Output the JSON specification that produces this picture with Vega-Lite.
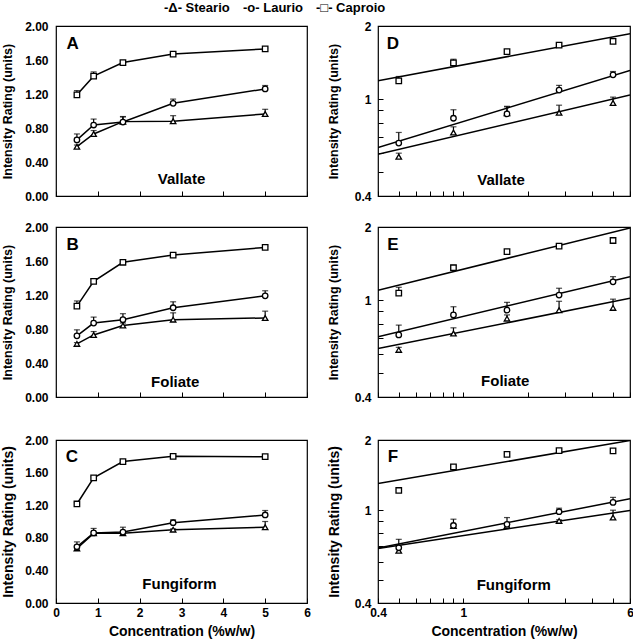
{
 "$schema": "https://vega.github.io/schema/vega-lite/v6.json",
 "padding": {"left": 1, "top": 1, "right": 0, "bottom": 0},
 "background": "white",
 "config": {
  "view": {"stroke": "black", "strokeWidth": 1.2},
  "axis": {"grid": false, "domain": false, "labelFont": "Liberation Sans", "labelFontSize": 12, "labelFontWeight": "bold", "labelColor": "black", "titleFont": "Liberation Sans", "titleFontSize": 12.5, "titleFontWeight": "bold", "titleColor": "black", "tickColor": "black", "tickSize": -5, "tickWidth": 1, "labelFlush": false, "labelOverlap": false},
  "text": {"font": "Liberation Sans"}
 },
 "datasets": {
  "obs": [
   {"tissue":"Vallate","series":"Steario","conc":0.5,"y":0.58,"hi":0.60},
   {"tissue":"Vallate","series":"Steario","conc":0.9,"y":0.73,"hi":0.77},
   {"tissue":"Vallate","series":"Steario","conc":1.6,"y":0.875,"hi":0.935},
   {"tissue":"Vallate","series":"Steario","conc":2.8,"y":0.88,"hi":0.945},
   {"tissue":"Vallate","series":"Steario","conc":5.0,"y":0.965,"hi":1.02},
   {"tissue":"Vallate","series":"Laurio","conc":0.5,"y":0.66,"hi":0.73},
   {"tissue":"Vallate","series":"Laurio","conc":0.9,"y":0.835,"hi":0.905},
   {"tissue":"Vallate","series":"Laurio","conc":1.6,"y":0.87,"hi":0.93},
   {"tissue":"Vallate","series":"Laurio","conc":2.8,"y":1.09,"hi":1.14},
   {"tissue":"Vallate","series":"Laurio","conc":5.0,"y":1.26,"hi":1.30},
   {"tissue":"Vallate","series":"Caproio","conc":0.5,"y":1.19,"hi":1.24},
   {"tissue":"Vallate","series":"Caproio","conc":0.9,"y":1.41,"hi":1.46},
   {"tissue":"Vallate","series":"Caproio","conc":1.6,"y":1.57,"hi":1.59},
   {"tissue":"Vallate","series":"Caproio","conc":2.8,"y":1.67,"hi":1.69},
   {"tissue":"Vallate","series":"Caproio","conc":5.0,"y":1.73,"hi":1.74},
   {"tissue":"Foliate","series":"Steario","conc":0.5,"y":0.625,"hi":0.64},
   {"tissue":"Foliate","series":"Steario","conc":0.9,"y":0.73,"hi":0.77},
   {"tissue":"Foliate","series":"Steario","conc":1.6,"y":0.84,"hi":0.87},
   {"tissue":"Foliate","series":"Steario","conc":2.8,"y":0.91,"hi":0.99},
   {"tissue":"Foliate","series":"Steario","conc":5.0,"y":0.93,"hi":1.01},
   {"tissue":"Foliate","series":"Laurio","conc":0.5,"y":0.72,"hi":0.79},
   {"tissue":"Foliate","series":"Laurio","conc":0.9,"y":0.87,"hi":0.94},
   {"tissue":"Foliate","series":"Laurio","conc":1.6,"y":0.91,"hi":0.98},
   {"tissue":"Foliate","series":"Laurio","conc":2.8,"y":1.05,"hi":1.12},
   {"tissue":"Foliate","series":"Laurio","conc":5.0,"y":1.19,"hi":1.25},
   {"tissue":"Foliate","series":"Caproio","conc":0.5,"y":1.07,"hi":1.13},
   {"tissue":"Foliate","series":"Caproio","conc":0.9,"y":1.36,"hi":1.39},
   {"tissue":"Foliate","series":"Caproio","conc":1.6,"y":1.585,"hi":1.60},
   {"tissue":"Foliate","series":"Caproio","conc":2.8,"y":1.67,"hi":1.685},
   {"tissue":"Foliate","series":"Caproio","conc":5.0,"y":1.76,"hi":1.775},
   {"tissue":"Fungiform","series":"Steario","conc":0.5,"y":0.67,"hi":0.70},
   {"tissue":"Fungiform","series":"Steario","conc":0.9,"y":0.855,"hi":0.87},
   {"tissue":"Fungiform","series":"Steario","conc":1.6,"y":0.855,"hi":0.87},
   {"tissue":"Fungiform","series":"Steario","conc":2.8,"y":0.90,"hi":0.91},
   {"tissue":"Fungiform","series":"Steario","conc":5.0,"y":0.93,"hi":1.00},
   {"tissue":"Fungiform","series":"Laurio","conc":0.5,"y":0.69,"hi":0.75},
   {"tissue":"Fungiform","series":"Laurio","conc":0.9,"y":0.86,"hi":0.915},
   {"tissue":"Fungiform","series":"Laurio","conc":1.6,"y":0.87,"hi":0.93},
   {"tissue":"Fungiform","series":"Laurio","conc":2.8,"y":0.985,"hi":1.02},
   {"tissue":"Fungiform","series":"Laurio","conc":5.0,"y":1.08,"hi":1.135},
   {"tissue":"Fungiform","series":"Caproio","conc":0.5,"y":1.215,"hi":1.23},
   {"tissue":"Fungiform","series":"Caproio","conc":0.9,"y":1.535,"hi":1.55},
   {"tissue":"Fungiform","series":"Caproio","conc":1.6,"y":1.735,"hi":1.75},
   {"tissue":"Fungiform","series":"Caproio","conc":2.8,"y":1.80,"hi":1.81},
   {"tissue":"Fungiform","series":"Caproio","conc":5.0,"y":1.795,"hi":1.805}
  ],
  "fit": [
   {"tissue":"Vallate","series":"Caproio","conc":0.4,"y":1.19},
   {"tissue":"Vallate","series":"Caproio","conc":6,"y":1.86},
   {"tissue":"Vallate","series":"Laurio","conc":0.4,"y":0.633},
   {"tissue":"Vallate","series":"Laurio","conc":6,"y":1.312},
   {"tissue":"Vallate","series":"Steario","conc":0.4,"y":0.594},
   {"tissue":"Vallate","series":"Steario","conc":6,"y":1.041},
   {"tissue":"Foliate","series":"Caproio","conc":0.4,"y":1.10},
   {"tissue":"Foliate","series":"Caproio","conc":6,"y":1.98},
   {"tissue":"Foliate","series":"Laurio","conc":0.4,"y":0.707},
   {"tissue":"Foliate","series":"Laurio","conc":6,"y":1.25},
   {"tissue":"Foliate","series":"Steario","conc":0.4,"y":0.633},
   {"tissue":"Foliate","series":"Steario","conc":6,"y":1.018},
   {"tissue":"Fungiform","series":"Caproio","conc":0.4,"y":1.30},
   {"tissue":"Fungiform","series":"Caproio","conc":6,"y":1.99},
   {"tissue":"Fungiform","series":"Laurio","conc":0.4,"y":0.689},
   {"tissue":"Fungiform","series":"Laurio","conc":6,"y":1.12},
   {"tissue":"Fungiform","series":"Steario","conc":0.4,"y":0.685},
   {"tissue":"Fungiform","series":"Steario","conc":6,"y":0.998}
  ],
  "notes": [
   {"letter":"A","name":"Vallate"},
   {"letter":"B","name":"Foliate"},
   {"letter":"C","name":"Fungiform"},
   {"letter":"D","name":"Vallate"},
   {"letter":"E","name":"Foliate"},
   {"letter":"F","name":"Fungiform"}
  ]
 },
 "vconcat": [
  {
   "vconcat": [
    {
     "hconcat": [
      {
       "width": 251, "height": 170,
       "layer": [
        {
         "encoding": {
          "x": {"field": "conc", "type": "quantitative", "scale": {"domain": [0, 6], "nice": false, "zero": false}, "axis": {"values": [0,1,2,3,4,5,6], "labels": false, "title": null}},
          "y": {"field": "y", "type": "quantitative", "scale": {"domain": [0, 2], "nice": false}, "axis": {"values": [0,0.4,0.8,1.2,1.6,2], "format": ".2f", "ticks": false, "tickSize": 0, "labelPadding": 8, "title": "Intensity Rating (units)", "titlePadding": 10}}
         },
         "layer": [
          {"data": {"name": "obs"}, "transform": [{"filter": "datum.tissue == 'Vallate'"}], "mark": {"type": "line", "color": "black", "strokeWidth": 1.5}, "encoding": {"detail": {"field": "series"}}},
          {"data": {"name": "obs"}, "transform": [{"filter": "datum.tissue == 'Vallate'"}], "mark": {"type": "rule", "color": "black", "strokeWidth": 1.2}, "encoding": {"y2": {"field": "hi"}}},
          {"data": {"name": "obs"}, "transform": [{"filter": "datum.tissue == 'Vallate'"}], "mark": {"type": "tick", "color": "black", "orient": "horizontal", "size": 6, "thickness": 1.2}, "encoding": {"y": {"field": "hi", "type": "quantitative"}}},
          {"data": {"name": "obs"}, "transform": [{"filter": "datum.tissue == 'Vallate'"}], "mark": {"type": "point", "filled": true, "fill": "white", "stroke": "black", "strokeWidth": 1.3, "size": 30, "opacity": 1},
           "encoding": {"shape": {"field": "series", "type": "nominal", "scale": {"domain": ["Steario","Laurio","Caproio"], "range": ["triangle-up","circle","square"]},
            "legend": {"title": null, "orient": "none", "legendX": 95, "legendY": -25, "direction": "horizontal", "labelFont": "Liberation Sans", "labelFontSize": 13, "labelFontWeight": "bold", "labelColor": "black", "symbolSize": 1, "symbolOpacity": 0, "labelOffset": 0, "columnPadding": 0, "padding": 0,
             "labelExpr": "datum.value == 'Steario' ? '-Δ- Steario' : datum.value == 'Laurio' ? '-o- Laurio' : '-□- Caproio'"}}}}
         ]
        },
        {"data": {"name": "notes"}, "transform": [{"filter": "datum.letter == 'A'"}], "mark": {"type": "text", "fontSize": 17, "fontWeight": "bold", "color": "black", "align": "center", "baseline": "middle"},
         "encoding": {"x": {"datum": 0.4, "type": "quantitative", "axis": {"values": [0,1,2,3,4,5,6], "labels": false, "title": null}}, "y": {"datum": 1.79, "type": "quantitative", "axis": {"values": [0,0.4,0.8,1.2,1.6,2], "format": ".2f", "ticks": false, "tickSize": 0, "labelPadding": 8, "title": "Intensity Rating (units)", "titlePadding": 10}}, "text": {"field": "letter", "type": "nominal"}}},
        {"data": {"name": "notes"}, "transform": [{"filter": "datum.letter == 'A'"}], "mark": {"type": "text", "fontSize": 15, "fontWeight": "bold", "color": "black", "align": "center", "baseline": "middle"},
         "encoding": {"x": {"datum": 3, "type": "quantitative", "axis": {"values": [0,1,2,3,4,5,6], "labels": false, "title": null}}, "y": {"datum": 0.2, "type": "quantitative", "axis": {"values": [0,0.4,0.8,1.2,1.6,2], "format": ".2f", "ticks": false, "tickSize": 0, "labelPadding": 8, "title": "Intensity Rating (units)", "titlePadding": 10}}, "text": {"field": "name", "type": "nominal"}}}
       ]
      },
      {
       "width": 252, "height": 170,
       "layer": [
        {
         "encoding": {
          "x": {"field": "conc", "type": "quantitative", "scale": {"type": "log", "domain": [0.4, 6], "nice": false}, "axis": {"values": [0.4,0.5,0.6,0.7,0.8,0.9,1,2,3,4,5,6], "labels": false, "title": null}},
          "y": {"field": "y", "type": "quantitative", "scale": {"type": "log", "domain": [0.4, 2], "nice": false}, "axis": {"values": [0.4,0.5,0.6,0.7,0.8,0.9,1,2], "format": "~g", "labelExpr": "datum.value == 0.4 || datum.value == 1 || datum.value == 2 ? datum.label : ''", "labelPadding": 12, "title": "Intensity Rating (units)", "titlePadding": 14}}
         },
         "layer": [
          {"data": {"name": "fit"}, "transform": [{"filter": "datum.tissue == 'Vallate'"}], "mark": {"type": "line", "color": "black", "strokeWidth": 1.5, "clip": true}, "encoding": {"detail": {"field": "series"}}},
          {"data": {"name": "obs"}, "transform": [{"filter": "datum.tissue == 'Vallate'"}], "mark": {"type": "rule", "color": "black", "strokeWidth": 1.2}, "encoding": {"y2": {"field": "hi"}}},
          {"data": {"name": "obs"}, "transform": [{"filter": "datum.tissue == 'Vallate'"}], "mark": {"type": "tick", "color": "black", "orient": "horizontal", "size": 6, "thickness": 1.2}, "encoding": {"y": {"field": "hi", "type": "quantitative"}}},
          {"data": {"name": "obs"}, "transform": [{"filter": "datum.tissue == 'Vallate'"}], "mark": {"type": "point", "filled": true, "fill": "white", "stroke": "black", "strokeWidth": 1.3, "size": 30, "opacity": 1}, "encoding": {"shape": {"field": "series", "type": "nominal", "scale": {"domain": ["Steario","Laurio","Caproio"], "range": ["triangle-up","circle","square"]}, "legend": null}}}
         ]
        },
        {"data": {"name": "notes"}, "transform": [{"filter": "datum.letter == 'D'"}], "mark": {"type": "text", "fontSize": 17, "fontWeight": "bold", "color": "black", "align": "center", "baseline": "middle"},
         "encoding": {"x": {"datum": 0.47, "type": "quantitative", "axis": {"values": [0.4,0.5,0.6,0.7,0.8,0.9,1,2,3,4,5,6], "labels": false, "title": null}}, "y": {"datum": 1.69, "type": "quantitative", "axis": {"values": [0.4,0.5,0.6,0.7,0.8,0.9,1,2], "format": "~g", "labelExpr": "datum.value == 0.4 || datum.value == 1 || datum.value == 2 ? datum.label : ''", "labelPadding": 12, "title": "Intensity Rating (units)", "titlePadding": 14}}, "text": {"field": "letter", "type": "nominal"}}},
        {"data": {"name": "notes"}, "transform": [{"filter": "datum.letter == 'D'"}], "mark": {"type": "text", "fontSize": 15, "fontWeight": "bold", "color": "black", "align": "center", "baseline": "middle"},
         "encoding": {"x": {"datum": 1.5, "type": "quantitative", "axis": {"values": [0.4,0.5,0.6,0.7,0.8,0.9,1,2,3,4,5,6], "labels": false, "title": null}}, "y": {"datum": 0.467, "type": "quantitative", "axis": {"values": [0.4,0.5,0.6,0.7,0.8,0.9,1,2], "format": "~g", "labelExpr": "datum.value == 0.4 || datum.value == 1 || datum.value == 2 ? datum.label : ''", "labelPadding": 12, "title": "Intensity Rating (units)", "titlePadding": 14}}, "text": {"field": "name", "type": "nominal"}}}
       ]
      }
     ],
     "spacing": 71, "bounds": "flush"
    },
    {
     "hconcat": [
      {
       "width": 251, "height": 170,
       "layer": [
        {
         "encoding": {
          "x": {"field": "conc", "type": "quantitative", "scale": {"domain": [0, 6], "nice": false, "zero": false}, "axis": {"values": [0,1,2,3,4,5,6], "labels": false, "title": null}},
          "y": {"field": "y", "type": "quantitative", "scale": {"domain": [0, 2], "nice": false}, "axis": {"values": [0,0.4,0.8,1.2,1.6,2], "format": ".2f", "ticks": false, "tickSize": 0, "labelPadding": 8, "title": "Intensity Rating (units)", "titlePadding": 10}}
         },
         "layer": [
          {"data": {"name": "obs"}, "transform": [{"filter": "datum.tissue == 'Foliate'"}], "mark": {"type": "line", "color": "black", "strokeWidth": 1.5}, "encoding": {"detail": {"field": "series"}}},
          {"data": {"name": "obs"}, "transform": [{"filter": "datum.tissue == 'Foliate'"}], "mark": {"type": "rule", "color": "black", "strokeWidth": 1.2}, "encoding": {"y2": {"field": "hi"}}},
          {"data": {"name": "obs"}, "transform": [{"filter": "datum.tissue == 'Foliate'"}], "mark": {"type": "tick", "color": "black", "orient": "horizontal", "size": 6, "thickness": 1.2}, "encoding": {"y": {"field": "hi", "type": "quantitative"}}},
          {"data": {"name": "obs"}, "transform": [{"filter": "datum.tissue == 'Foliate'"}], "mark": {"type": "point", "filled": true, "fill": "white", "stroke": "black", "strokeWidth": 1.3, "size": 30, "opacity": 1}, "encoding": {"shape": {"field": "series", "type": "nominal", "scale": {"domain": ["Steario","Laurio","Caproio"], "range": ["triangle-up","circle","square"]}, "legend": null}}}
         ]
        },
        {"data": {"name": "notes"}, "transform": [{"filter": "datum.letter == 'B'"}], "mark": {"type": "text", "fontSize": 17, "fontWeight": "bold", "color": "black", "align": "center", "baseline": "middle"},
         "encoding": {"x": {"datum": 0.4, "type": "quantitative", "axis": {"values": [0,1,2,3,4,5,6], "labels": false, "title": null}}, "y": {"datum": 1.79, "type": "quantitative", "axis": {"values": [0,0.4,0.8,1.2,1.6,2], "format": ".2f", "ticks": false, "tickSize": 0, "labelPadding": 8, "title": "Intensity Rating (units)", "titlePadding": 10}}, "text": {"field": "letter", "type": "nominal"}}},
        {"data": {"name": "notes"}, "transform": [{"filter": "datum.letter == 'B'"}], "mark": {"type": "text", "fontSize": 15, "fontWeight": "bold", "color": "black", "align": "center", "baseline": "middle"},
         "encoding": {"x": {"datum": 2.85, "type": "quantitative", "axis": {"values": [0,1,2,3,4,5,6], "labels": false, "title": null}}, "y": {"datum": 0.18, "type": "quantitative", "axis": {"values": [0,0.4,0.8,1.2,1.6,2], "format": ".2f", "ticks": false, "tickSize": 0, "labelPadding": 8, "title": "Intensity Rating (units)", "titlePadding": 10}}, "text": {"field": "name", "type": "nominal"}}}
       ]
      },
      {
       "width": 252, "height": 170,
       "layer": [
        {
         "encoding": {
          "x": {"field": "conc", "type": "quantitative", "scale": {"type": "log", "domain": [0.4, 6], "nice": false}, "axis": {"values": [0.4,0.5,0.6,0.7,0.8,0.9,1,2,3,4,5,6], "labels": false, "title": null}},
          "y": {"field": "y", "type": "quantitative", "scale": {"type": "log", "domain": [0.4, 2], "nice": false}, "axis": {"values": [0.4,0.5,0.6,0.7,0.8,0.9,1,2], "format": "~g", "labelExpr": "datum.value == 0.4 || datum.value == 1 || datum.value == 2 ? datum.label : ''", "labelPadding": 12, "title": "Intensity Rating (units)", "titlePadding": 14}}
         },
         "layer": [
          {"data": {"name": "fit"}, "transform": [{"filter": "datum.tissue == 'Foliate'"}], "mark": {"type": "line", "color": "black", "strokeWidth": 1.5, "clip": true}, "encoding": {"detail": {"field": "series"}}},
          {"data": {"name": "obs"}, "transform": [{"filter": "datum.tissue == 'Foliate'"}], "mark": {"type": "rule", "color": "black", "strokeWidth": 1.2}, "encoding": {"y2": {"field": "hi"}}},
          {"data": {"name": "obs"}, "transform": [{"filter": "datum.tissue == 'Foliate'"}], "mark": {"type": "tick", "color": "black", "orient": "horizontal", "size": 6, "thickness": 1.2}, "encoding": {"y": {"field": "hi", "type": "quantitative"}}},
          {"data": {"name": "obs"}, "transform": [{"filter": "datum.tissue == 'Foliate'"}], "mark": {"type": "point", "filled": true, "fill": "white", "stroke": "black", "strokeWidth": 1.3, "size": 30, "opacity": 1}, "encoding": {"shape": {"field": "series", "type": "nominal", "scale": {"domain": ["Steario","Laurio","Caproio"], "range": ["triangle-up","circle","square"]}, "legend": null}}}
         ]
        },
        {"data": {"name": "notes"}, "transform": [{"filter": "datum.letter == 'E'"}], "mark": {"type": "text", "fontSize": 17, "fontWeight": "bold", "color": "black", "align": "center", "baseline": "middle"},
         "encoding": {"x": {"datum": 0.47, "type": "quantitative", "axis": {"values": [0.4,0.5,0.6,0.7,0.8,0.9,1,2,3,4,5,6], "labels": false, "title": null}}, "y": {"datum": 1.69, "type": "quantitative", "axis": {"values": [0.4,0.5,0.6,0.7,0.8,0.9,1,2], "format": "~g", "labelExpr": "datum.value == 0.4 || datum.value == 1 || datum.value == 2 ? datum.label : ''", "labelPadding": 12, "title": "Intensity Rating (units)", "titlePadding": 14}}, "text": {"field": "letter", "type": "nominal"}}},
        {"data": {"name": "notes"}, "transform": [{"filter": "datum.letter == 'E'"}], "mark": {"type": "text", "fontSize": 15, "fontWeight": "bold", "color": "black", "align": "center", "baseline": "middle"},
         "encoding": {"x": {"datum": 1.57, "type": "quantitative", "axis": {"values": [0.4,0.5,0.6,0.7,0.8,0.9,1,2,3,4,5,6], "labels": false, "title": null}}, "y": {"datum": 0.466, "type": "quantitative", "axis": {"values": [0.4,0.5,0.6,0.7,0.8,0.9,1,2], "format": "~g", "labelExpr": "datum.value == 0.4 || datum.value == 1 || datum.value == 2 ? datum.label : ''", "labelPadding": 12, "title": "Intensity Rating (units)", "titlePadding": 14}}, "text": {"field": "name", "type": "nominal"}}}
       ]
      }
     ],
     "spacing": 71, "bounds": "flush"
    }
   ],
   "spacing": 17
  },
  {
   "hconcat": [
    {
     "width": 251, "height": 163,
     "layer": [
      {
       "encoding": {
        "x": {"field": "conc", "type": "quantitative", "scale": {"domain": [0, 6], "nice": false, "zero": false}, "axis": {"values": [0,1,2,3,4,5,6], "labelPadding": 9, "title": "Concentration (%w/w)", "titleFontSize": 14, "titlePadding": 6}},
        "y": {"field": "y", "type": "quantitative", "scale": {"domain": [0, 2], "nice": false}, "axis": {"values": [0,0.4,0.8,1.2,1.6,2], "format": ".2f", "ticks": false, "tickSize": 0, "labelPadding": 8, "title": "Intensity Rating (units)", "titleFontSize": 14, "titlePadding": 9}}
       },
       "layer": [
        {"data": {"name": "obs"}, "transform": [{"filter": "datum.tissue == 'Fungiform'"}], "mark": {"type": "line", "color": "black", "strokeWidth": 1.5}, "encoding": {"detail": {"field": "series"}}},
        {"data": {"name": "obs"}, "transform": [{"filter": "datum.tissue == 'Fungiform'"}], "mark": {"type": "rule", "color": "black", "strokeWidth": 1.2}, "encoding": {"y2": {"field": "hi"}}},
        {"data": {"name": "obs"}, "transform": [{"filter": "datum.tissue == 'Fungiform'"}], "mark": {"type": "tick", "color": "black", "orient": "horizontal", "size": 6, "thickness": 1.2}, "encoding": {"y": {"field": "hi", "type": "quantitative"}}},
        {"data": {"name": "obs"}, "transform": [{"filter": "datum.tissue == 'Fungiform'"}], "mark": {"type": "point", "filled": true, "fill": "white", "stroke": "black", "strokeWidth": 1.3, "size": 30, "opacity": 1}, "encoding": {"shape": {"field": "series", "type": "nominal", "scale": {"domain": ["Steario","Laurio","Caproio"], "range": ["triangle-up","circle","square"]}, "legend": null}}}
       ]
      },
      {"data": {"name": "notes"}, "transform": [{"filter": "datum.letter == 'C'"}], "mark": {"type": "text", "fontSize": 17, "fontWeight": "bold", "color": "black", "align": "center", "baseline": "middle"},
       "encoding": {"x": {"datum": 0.38, "type": "quantitative", "axis": {"values": [0,1,2,3,4,5,6], "labelPadding": 9, "title": "Concentration (%w/w)", "titleFontSize": 14, "titlePadding": 6}}, "y": {"datum": 1.795, "type": "quantitative", "axis": {"values": [0,0.4,0.8,1.2,1.6,2], "format": ".2f", "ticks": false, "tickSize": 0, "labelPadding": 8, "title": "Intensity Rating (units)", "titleFontSize": 14, "titlePadding": 9}}, "text": {"field": "letter", "type": "nominal"}}},
      {"data": {"name": "notes"}, "transform": [{"filter": "datum.letter == 'C'"}], "mark": {"type": "text", "fontSize": 15, "fontWeight": "bold", "color": "black", "align": "center", "baseline": "middle"},
       "encoding": {"x": {"datum": 2.95, "type": "quantitative", "axis": {"values": [0,1,2,3,4,5,6], "labelPadding": 9, "title": "Concentration (%w/w)", "titleFontSize": 14, "titlePadding": 6}}, "y": {"datum": 0.233, "type": "quantitative", "axis": {"values": [0,0.4,0.8,1.2,1.6,2], "format": ".2f", "ticks": false, "tickSize": 0, "labelPadding": 8, "title": "Intensity Rating (units)", "titleFontSize": 14, "titlePadding": 9}}, "text": {"field": "name", "type": "nominal"}}}
     ]
    },
    {
     "width": 252, "height": 163,
     "layer": [
      {
       "encoding": {
        "x": {"field": "conc", "type": "quantitative", "scale": {"type": "log", "domain": [0.4, 6], "nice": false}, "axis": {"values": [0.4,0.5,0.6,0.7,0.8,0.9,1,2,3,4,5,6], "format": "~g", "labelExpr": "datum.value == 0.4 || datum.value == 1 || datum.value == 6 ? datum.label : ''", "labelPadding": 9, "title": "Concentration (%w/w)", "titleFontSize": 14, "titlePadding": 6}},
        "y": {"field": "y", "type": "quantitative", "scale": {"type": "log", "domain": [0.4, 2], "nice": false}, "axis": {"values": [0.4,0.5,0.6,0.7,0.8,0.9,1,2], "format": "~g", "labelExpr": "datum.value == 0.4 || datum.value == 1 || datum.value == 2 ? datum.label : ''", "labelPadding": 12, "title": "Intensity Rating (units)", "titleFontSize": 14, "titlePadding": 13}}
       },
       "layer": [
        {"data": {"name": "fit"}, "transform": [{"filter": "datum.tissue == 'Fungiform'"}], "mark": {"type": "line", "color": "black", "strokeWidth": 1.5, "clip": true}, "encoding": {"detail": {"field": "series"}}},
        {"data": {"name": "obs"}, "transform": [{"filter": "datum.tissue == 'Fungiform'"}], "mark": {"type": "rule", "color": "black", "strokeWidth": 1.2}, "encoding": {"y2": {"field": "hi"}}},
        {"data": {"name": "obs"}, "transform": [{"filter": "datum.tissue == 'Fungiform'"}], "mark": {"type": "tick", "color": "black", "orient": "horizontal", "size": 6, "thickness": 1.2}, "encoding": {"y": {"field": "hi", "type": "quantitative"}}},
        {"data": {"name": "obs"}, "transform": [{"filter": "datum.tissue == 'Fungiform'"}], "mark": {"type": "point", "filled": true, "fill": "white", "stroke": "black", "strokeWidth": 1.3, "size": 30, "opacity": 1}, "encoding": {"shape": {"field": "series", "type": "nominal", "scale": {"domain": ["Steario","Laurio","Caproio"], "range": ["triangle-up","circle","square"]}, "legend": null}}}
       ]
      },
      {"data": {"name": "notes"}, "transform": [{"filter": "datum.letter == 'F'"}], "mark": {"type": "text", "fontSize": 17, "fontWeight": "bold", "color": "black", "align": "center", "baseline": "middle"},
       "encoding": {"x": {"datum": 0.47, "type": "quantitative", "axis": {"values": [0.4,0.5,0.6,0.7,0.8,0.9,1,2,3,4,5,6], "format": "~g", "labelExpr": "datum.value == 0.4 || datum.value == 1 || datum.value == 6 ? datum.label : ''", "labelPadding": 9, "title": "Concentration (%w/w)", "titleFontSize": 14, "titlePadding": 6}}, "y": {"datum": 1.69, "type": "quantitative", "axis": {"values": [0.4,0.5,0.6,0.7,0.8,0.9,1,2], "format": "~g", "labelExpr": "datum.value == 0.4 || datum.value == 1 || datum.value == 2 ? datum.label : ''", "labelPadding": 12, "title": "Intensity Rating (units)", "titleFontSize": 14, "titlePadding": 13}}, "text": {"field": "letter", "type": "nominal"}}},
      {"data": {"name": "notes"}, "transform": [{"filter": "datum.letter == 'F'"}], "mark": {"type": "text", "fontSize": 15, "fontWeight": "bold", "color": "black", "align": "center", "baseline": "middle"},
       "encoding": {"x": {"datum": 1.72, "type": "quantitative", "axis": {"values": [0.4,0.5,0.6,0.7,0.8,0.9,1,2,3,4,5,6], "format": "~g", "labelExpr": "datum.value == 0.4 || datum.value == 1 || datum.value == 6 ? datum.label : ''", "labelPadding": 9, "title": "Concentration (%w/w)", "titleFontSize": 14, "titlePadding": 6}}, "y": {"datum": 0.478, "type": "quantitative", "axis": {"values": [0.4,0.5,0.6,0.7,0.8,0.9,1,2], "format": "~g", "labelExpr": "datum.value == 0.4 || datum.value == 1 || datum.value == 2 ? datum.label : ''", "labelPadding": 12, "title": "Intensity Rating (units)", "titleFontSize": 14, "titlePadding": 13}}, "text": {"field": "name", "type": "nominal"}}}
     ]
    }
   ],
   "spacing": 71, "bounds": "flush"
  }
 ],
 "spacing": 29
}
